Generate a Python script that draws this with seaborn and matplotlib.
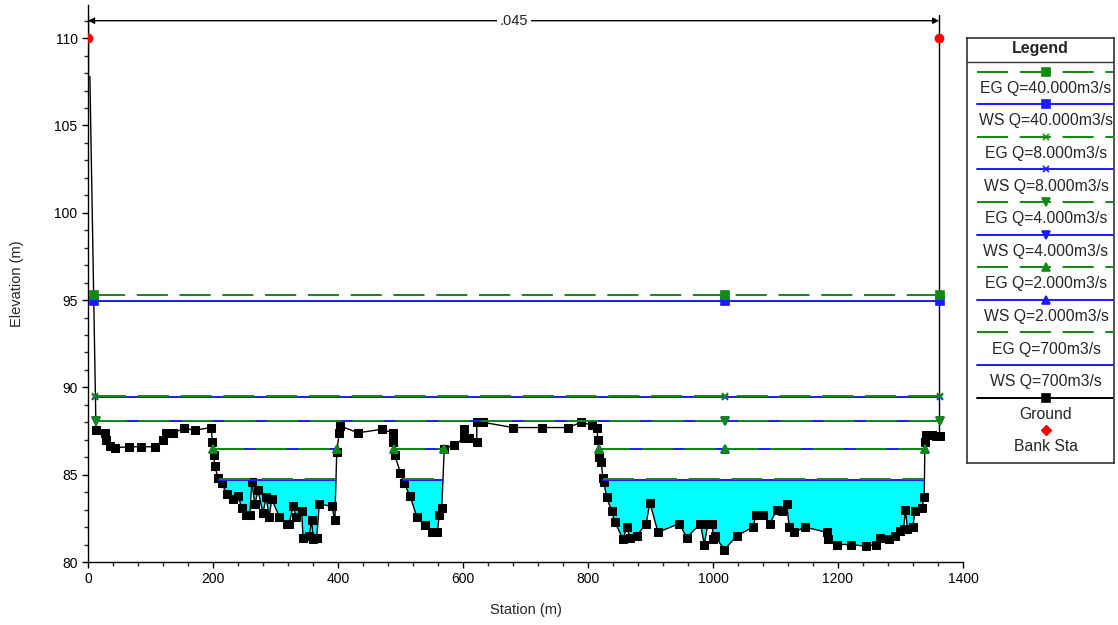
import numpy as np
import matplotlib
matplotlib.use("Agg")
import matplotlib.pyplot as plt
import seaborn as sns

# ---------------- data ----------------
station = [3, 12.8, 27, 29, 35, 43, 66, 85, 107, 120,
           125, 136, 154, 171, 197, 199, 201, 203, 208, 214,
           222, 232, 240, 246, 253, 259, 262, 267, 272, 280,
           285, 290, 294, 306, 318, 322, 328, 333, 342, 344,
           354, 358, 360, 366, 370, 390, 395, 398, 402, 403,
           432, 470, 488, 488, 491, 500, 506, 515, 526, 539,
           550, 559, 562, 566, 570, 586, 602, 602, 610, 622,
           622, 632, 680, 726, 768, 789, 806, 814, 816, 818,
           821, 824, 825, 830, 838, 843, 856, 862, 867, 878,
           893, 899, 912, 946, 958, 980, 986, 992, 999, 1000,
           1003, 1018, 1038, 1064, 1069, 1080, 1091, 1102, 1110, 1118,
           1122, 1130, 1147, 1182, 1184, 1198, 1221, 1245, 1261, 1267,
           1282, 1291, 1300, 1305, 1308, 1311, 1320, 1323, 1334, 1338,
           1339, 1341, 1350, 1357, 1363]
elevation = [107.8, 87.56, 87.4, 87.0, 86.65, 86.55, 86.6, 86.6, 86.6, 87.0,
             87.4, 87.4, 87.65, 87.55, 87.7, 86.9, 86.1, 85.5, 84.8, 84.5,
             83.9, 83.6, 83.8, 83.1, 82.7, 82.7, 84.6, 83.3, 84.1, 82.8,
             83.7, 82.6, 83.6, 82.6, 82.2, 82.2, 83.2, 82.6, 82.9, 81.4,
             81.5, 82.4, 81.3, 81.4, 83.3, 83.2, 82.4, 86.3, 87.4, 87.8,
             87.4, 87.6, 87.4, 86.9, 86.1, 85.1, 84.5, 83.8, 82.6, 82.1,
             81.7, 81.7, 82.7, 83.1, 86.5, 86.7, 87.1, 87.6, 87.1, 86.9,
             88.0, 88.0, 87.7, 87.7, 87.7, 88.0, 87.85, 87.7, 87.0, 86.0,
             85.7, 84.8, 84.6, 83.7, 82.9, 82.3, 81.3, 82.0, 81.4, 81.5,
             82.2, 83.4, 81.7, 82.2, 81.4, 82.2, 81.0, 82.2, 82.2, 81.3,
             81.5, 80.7, 81.5, 82.0, 82.7, 82.7, 82.2, 83.0, 82.9, 83.3,
             82.0, 81.7, 82.0, 81.7, 81.3, 81.0, 81.0, 80.9, 81.0, 81.4,
             81.3, 81.5, 81.8, 81.9, 83.0, 81.9, 82.0, 82.9, 83.1, 83.7,
             86.9, 87.3, 87.25, 87.2, 87.2]

bank_sta = [0, 1362]
bank_elev = [110.0, 110.0]
n_value = ".045"
n_value_elev = 111.0

profile_names = ["40.000m3/s", "8.000m3/s", "4.000m3/s", "2.000m3/s", "700m3/s"]
eg_levels = [95.28, 89.50, 88.08, 86.48, 84.75]
ws_levels = [94.95, 89.43, 88.05, 86.45, 84.72]
profile_markers = ["s", "x", "v", "^", None]
marker_station = 1019

# ---------------- style ----------------
sns.set_style("ticks")
plt.rcParams["font.family"] = ["Liberation Sans", "DejaVu Sans"]

GREEN = "#118a11"
BLUE = "#1a1aff"
CYAN = "#00ffff"
EG_DASH = (0, (16, 6))

W, H = 1118, 625
fig = plt.figure(figsize=(W / 100, H / 100), dpi=100)
ax = fig.add_axes([88 / W, 63 / H, 875 / W, 557 / H])

st = np.asarray(station, float)
el = np.asarray(elevation, float)


def wet_segments(xs, ys, level):
    segs, start = [], None
    for i in range(len(xs)):
        wet = ys[i] < level
        if i == 0:
            if wet:
                start = xs[0]
            continue
        pwet = ys[i - 1] < level
        if wet != pwet:
            x0, y0, x1, y1 = xs[i - 1], ys[i - 1], xs[i], ys[i]
            xc = x0 + (level - y0) * (x1 - x0) / (y1 - y0)
            if wet:
                start = xc
            else:
                segs.append((start, xc))
                start = None
    if start is not None:
        segs.append((start, xs[-1]))
    return segs


# water fill for lowest profile
ax.fill_between(st, el, ws_levels[-1], where=el < ws_levels[-1],
                interpolate=True, color=CYAN, linewidth=0, zorder=1)

# ground
sns.lineplot(x=st, y=el, sort=False, estimator=None, ax=ax, color="black",
             linewidth=1.0, marker="s", markersize=5.6, markeredgecolor="black",
             markevery=slice(1, None), zorder=3)

# profiles
for name, eg, ws, mk in zip(profile_names, eg_levels, ws_levels, profile_markers):
    for level, color, ls, z in ((ws, BLUE, "-", 4), (eg, GREEN, EG_DASH, 5)):
        segs = wet_segments(st, el, level)
        for a, b in segs:
            ax.plot([a, b], [level, level], color=color, linestyle=ls,
                    linewidth=1.4, zorder=z)
        if mk is not None:
            pts = [p for s in segs for p in s]
            if any(a <= marker_station <= b for a, b in segs):
                pts.append(marker_station)
            ax.plot(pts, [level] * len(pts), linestyle="none", marker=mk,
                    color=color, markersize=6 if mk != "x" else 5,
                    markeredgewidth=1.2, zorder=z + 2)

# bank stations + n-value bracket
for bs in bank_sta:
    gy = np.interp(bs, st, el)
    ax.plot([bs, bs], [gy, 111.3], color="black", linewidth=1.0, zorder=3)
ax.plot(bank_sta, bank_elev, linestyle="none", marker="o", color="red",
        markersize=6, zorder=8)
ax.annotate("", xy=(bank_sta[0], n_value_elev), xytext=(bank_sta[1], n_value_elev),
            arrowprops=dict(arrowstyle="<|-|>", color="black", lw=1.0,
                            mutation_scale=9, shrinkA=0, shrinkB=0))
ax.text(np.mean(bank_sta), n_value_elev, n_value, ha="center", va="center",
        fontsize=10.5, bbox=dict(facecolor="white", edgecolor="none", pad=2))

# axes
ax.set_xlim(0, 1400)
ax.set_ylim(80, 111.9)
ax.set_xticks(np.arange(0, 1401, 200))
ax.set_xticks(np.arange(0, 1401, 40), minor=True)
ax.set_yticks(np.arange(80, 111, 5))
ax.set_yticks(np.arange(80, 112, 1), minor=True)
ax.tick_params(which="major", length=4, width=1, labelsize=10, colors="black")
ax.tick_params(which="minor", length=3, width=1)
ax.set_xlabel("Station (m)", fontsize=10.5, labelpad=12)
ax.set_ylabel("Elevation (m)", fontsize=10.5, labelpad=22)
sns.despine(ax=ax, top=True, right=True)
for s in ("left", "bottom"):
    ax.spines[s].set_color("black")
    ax.spines[s].set_linewidth(1.0)

# ---------------- legend (HEC-RAS style box) ----------------
lx0, ly0, lx1, ly1 = 967, 38, 1114, 463
lax = fig.add_axes([lx0 / W, 1 - ly1 / H, (lx1 - lx0) / W, (ly1 - ly0) / H])
lax.set_xlim(0, lx1 - lx0)
lax.set_ylim(ly1 - ly0, 0)
lax.set_xticks([])
lax.set_yticks([])
for s in lax.spines.values():
    s.set_visible(True)
    s.set_color("#333333")
    s.set_linewidth(1.2)
lw_ = lx1 - lx0
lax.text(lw_ / 2, 11, "Legend", ha="center", va="center", fontsize=11.5,
         fontweight="bold")
lax.plot([0, lw_], [23.5, 23.5], color="#333333", linewidth=1.0)

entries = []
for name, mk in zip(profile_names, profile_markers):
    entries.append(("EG Q=" + name, GREEN, EG_DASH, mk))
    entries.append(("WS Q=" + name, BLUE, "-", mk))
entries.append(("Ground", "black", "-", "s"))

y = 33.7
step = 32.6
for label, color, ls, mk in entries:
    lax.plot([10, lw_ - 1], [y, y], color=color, linestyle=ls, linewidth=1.4)
    if mk is not None:
        lax.plot([79], [y], marker=mk, color=color, markersize=6 if mk != "x" else 5,
                 markeredgewidth=1.2, linestyle="none")
    lax.text(79, y + 16.6, label, ha="center", va="center", fontsize=11.3)
    y += step
lax.plot([79], [y], marker="D", color="red", markersize=5, linestyle="none")
lax.text(79, y + 16.6, "Bank Sta", ha="center", va="center", fontsize=11.3)

fig.savefig("out.png", dpi=100)
